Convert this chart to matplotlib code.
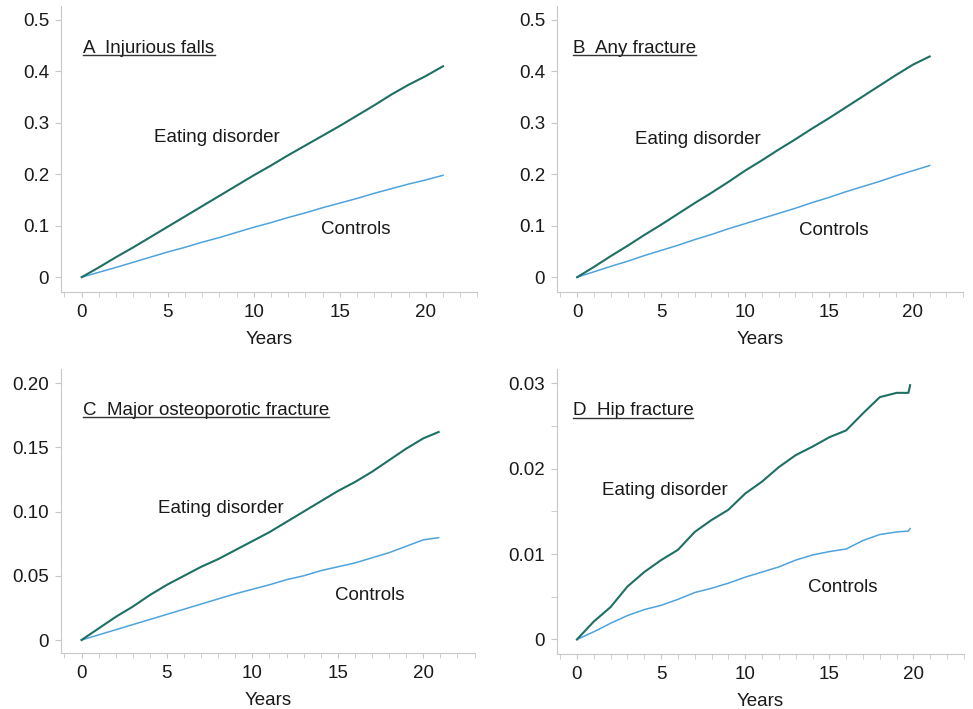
import matplotlib
matplotlib.use("Agg")
import matplotlib.pyplot as plt
from matplotlib.lines import Line2D
from matplotlib.ticker import MultipleLocator

plt.rcParams['font.family'] = ['Liberation Sans', 'DejaVu Sans']

TEAL = '#1e6f64'
BLUE = '#4ea3dc'
GREY = '#c8c8c8'
INK = '#1a1a1a'
FS = 13.5

# panel A - injurious falls
years_a = list(range(22))
ed_a = [0, 0.019, 0.039, 0.058, 0.078, 0.098, 0.118, 0.138, 0.158, 0.178, 0.198,
        0.217, 0.237, 0.256, 0.275, 0.294, 0.314, 0.334, 0.355, 0.374, 0.391, 0.410]
ctrl_a = [0, 0.0095, 0.019, 0.029, 0.039, 0.049, 0.058, 0.068, 0.077, 0.087, 0.097,
          0.106, 0.116, 0.125, 0.135, 0.144, 0.153, 0.163, 0.172, 0.181, 0.189, 0.198]

# panel B - any fracture
years_b = list(range(22))
ed_b = [0, 0.020, 0.041, 0.061, 0.082, 0.102, 0.123, 0.144, 0.164, 0.185, 0.207,
        0.227, 0.248, 0.268, 0.289, 0.309, 0.330, 0.351, 0.372, 0.393, 0.413, 0.429]
ctrl_b = [0, 0.0105, 0.021, 0.031, 0.042, 0.052, 0.062, 0.073, 0.083, 0.094, 0.104,
          0.114, 0.124, 0.134, 0.145, 0.155, 0.166, 0.176, 0.186, 0.197, 0.207, 0.217]

# panel C - major osteoporotic fracture
years_c = list(range(21)) + [20.9]
ed_c = [0, 0.009, 0.018, 0.026, 0.035, 0.043, 0.050, 0.057, 0.063, 0.070, 0.077,
        0.084, 0.092, 0.100, 0.108, 0.116, 0.123, 0.131, 0.140, 0.149, 0.157, 0.162]
ctrl_c = [0, 0.004, 0.008, 0.012, 0.016, 0.020, 0.024, 0.028, 0.032, 0.036, 0.0395,
          0.043, 0.047, 0.050, 0.054, 0.057, 0.060, 0.064, 0.068, 0.073, 0.078, 0.0797]

# panel D - hip fracture
years_d = list(range(20)) + [19.7, 19.8]
ed_d = [0, 0.0021, 0.0038, 0.0062, 0.0079, 0.0093, 0.0105, 0.0126, 0.0140, 0.0152, 0.0171,
        0.0185, 0.0202, 0.0216, 0.0226, 0.0237, 0.0245, 0.0265, 0.0284, 0.0289, 0.0289, 0.0298]
ctrl_d = [0, 0.0009, 0.0019, 0.0028, 0.0035, 0.0040, 0.0047, 0.0055, 0.0060, 0.0066, 0.0073,
          0.0079, 0.0085, 0.0093, 0.0099, 0.0103, 0.0106, 0.0116, 0.0123, 0.0126, 0.0127, 0.0130]

titles = ['A  Injurious falls', 'B  Any fracture', 'C  Major osteoporotic fracture', 'D  Hip fracture']
yticks_ab = [0, 0.1, 0.2, 0.3, 0.4, 0.5]
ylabels_ab = ['0', '0.1', '0.2', '0.3', '0.4', '0.5']
yticks_c = [0, 0.05, 0.10, 0.15, 0.20]
ylabels_c = ['0', '0.05', '0.10', '0.15', '0.20']
yticks_d = [0, 0.01, 0.02, 0.03]
ylabels_d = ['0', '0.01', '0.02', '0.03']

fig = plt.figure(figsize=(9.73, 7.09), dpi=100)

panels = [
    # rect, x, ed, ctrl, ylim, yticks, ylabels, title pos, ED label pos, controls label pos
    ([0.0627, 0.588, 0.428, 0.4035], years_a, ed_a, ctrl_a, (-0.029, 0.527), yticks_ab, ylabels_ab,
     (0.1, 0.436), (7.86, 0.272), (15.9, 0.093)),
    ([0.5725, 0.588, 0.4175, 0.4035], years_b, ed_b, ctrl_b, (-0.029, 0.527), yticks_ab, ylabels_ab,
     (-0.23, 0.436), (7.2, 0.268), (15.26, 0.090)),
    ([0.0627, 0.079, 0.425, 0.4005], years_c, ed_c, ctrl_c, (-0.0101, 0.211), yticks_c, ylabels_c,
     (0.06, 0.1754), (8.18, 0.1026), (16.86, 0.0345)),
    ([0.5722, 0.0776, 0.4185, 0.402], years_d, ed_d, ctrl_d, (-0.0017, 0.0317), yticks_d, ylabels_d,
     (-0.26, 0.0263), (5.23, 0.0175), (15.8, 0.0061)),
]

title_texts = []
for i, (rect, x, ed, ctrl, ylim, yt, yl, tpos, epos, cpos) in enumerate(panels):
    ax = fig.add_axes(rect)
    ax.plot(x, ctrl, color=BLUE, lw=1.1)
    ax.plot(x, ed, color=TEAL, lw=1.5)
    ax.set_xlim(-1.2, 23.0)
    ax.set_ylim(*ylim)
    ax.set_xticks([0, 5, 10, 15, 20])
    ax.xaxis.set_minor_locator(MultipleLocator(1))
    ax.set_yticks(yt)
    ax.set_yticklabels(yl)
    if i == 3:
        ax.yaxis.set_minor_locator(MultipleLocator(0.005))
    for s in ['top', 'right']:
        ax.spines[s].set_visible(False)
    for s in ['left', 'bottom']:
        ax.spines[s].set_color(GREY)
        ax.spines[s].set_linewidth(0.8)
    ax.tick_params(axis='both', which='both', color=GREY, labelsize=FS, labelcolor=INK)
    ax.tick_params(axis='y', which='major', length=4.5, pad=4)
    ax.tick_params(axis='y', which='minor', length=4.5)
    ax.tick_params(axis='x', which='both', length=3.5, pad=5)
    ax.set_xlabel('Years', fontsize=FS, color=INK, labelpad=7)
    t = ax.text(tpos[0], tpos[1], titles[i], fontsize=FS, ha='left', va='baseline', color=INK)
    title_texts.append(t)
    ax.text(epos[0], epos[1], 'Eating disorder', fontsize=FS, ha='center', va='center', color=INK)
    ax.text(cpos[0], cpos[1], 'Controls', fontsize=FS, ha='center', va='center', color=INK)

# underline the panel titles
fig.canvas.draw()
r = fig.canvas.get_renderer()
W, H = fig.get_size_inches() * fig.dpi
for t in title_texts:
    bb = t.get_window_extent(r)
    base = t.get_transform().transform(t.get_position())[1]
    yy = (base - 2.5) / H
    fig.add_artist(Line2D([bb.x0 / W, bb.x1 / W], [yy, yy], color='#333333', lw=1.0))

fig.savefig('out.png', dpi=100)
